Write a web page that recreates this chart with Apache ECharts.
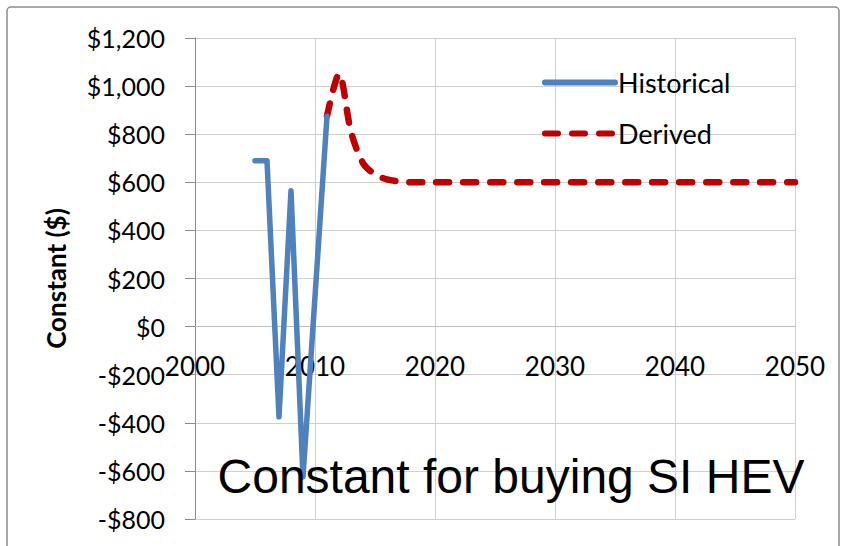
<!DOCTYPE html>
<html>
<head>
<meta charset="utf-8">
<script src="https://cdn.jsdelivr.net/npm/echarts@6/dist/echarts.min.js"></script>
<style>html,body{margin:0;padding:0;background:#fff}#c{width:845px;height:546px}</style>
</head>
<body>
<div id="c"></div>
<script>
const historicalYears = [2005, 2006, 2007, 2008, 2009, 2011];
const historicalValues = [690, 690, -375, 565, -625, 875];
const derivedYears = [2011, 2012, 2013, 2014, 2015, 2016, 2017, 2018, 2019, 2020, 2021, 2022, 2023, 2024, 2025, 2026, 2027, 2028, 2029, 2030, 2031, 2032, 2033, 2034, 2035, 2036, 2037, 2038, 2039, 2040, 2041, 2042, 2043, 2044, 2045, 2046, 2047, 2048, 2049, 2050];
const derivedValues = [875, 1050, 810, 680, 633, 612, 604, 600, 600, 600, 600, 600, 600, 600, 600, 600, 600, 600, 600, 600, 600, 600, 600, 600, 600, 600, 600, 600, 600, 600, 600, 600, 600, 600, 600, 600, 600, 600, 600, 600];
const xTicks = [2000, 2010, 2020, 2030, 2040, 2050];
const yTicks = [-800, -600, -400, -200, 0, 200, 400, 600, 800, 1000, 1200];
const seriesNames = ['Historical', 'Derived'];
const chartTitle = 'Constant for buying SI HEV';
const yAxisName = 'Constant ($)';

function fmtMoney(v) {
  const s = Math.abs(v).toLocaleString('en-US');
  return (v < 0 ? '-$' : '$') + s;
}

const W = 845, H = 546;
const gridTop = 38, gridBottom = 27, gridLeft = 195, gridRight = 50;
const gridH = H - gridTop - gridBottom;
const yMin = yTicks[0], yMax = yTicks[yTicks.length - 1];
// move the x axis up from the grid bottom to the zero line
const xAxisOffset = -gridH * (0 - yMin) / (yMax - yMin);

const chart = echarts.init(document.getElementById('c'), null, {renderer: 'svg'});
const labelFont = 'Lato, "Open Sans", sans-serif';
chart.setOption({
  animation: false,
  backgroundColor: '#fff',
  grid: {left: gridLeft, right: gridRight, top: gridTop, bottom: gridBottom, containLabel: false, outerBoundsMode: 'none'},
  legend: {
    orient: 'vertical',
    left: 542, top: 69, padding: 0,
    itemWidth: 70, itemHeight: 14, itemGap: 24,
    itemStyle: {opacity: 0, color: 'rgba(0,0,0,0)', borderWidth: 0},
    lineStyle: {width: 6, cap: 'round'},
    textStyle: {fontFamily: labelFont, fontSize: 27, color: '#000', padding: [0, 0, 0, -2]},
    data: seriesNames
  },
  xAxis: {
    type: 'value', min: xTicks[0], max: xTicks[xTicks.length - 1], interval: 10,
    offset: xAxisOffset,
    axisLine: {onZero: false, lineStyle: {color: '#bfbfbf', width: 1}},
    axisTick: {show: false},
    axisLabel: {margin: 26, fontFamily: labelFont, fontSize: 26, color: '#000', formatter: v => String(v)},
    splitLine: {show: true, lineStyle: {color: '#d0d0d0', width: 1}}
  },
  yAxis: {
    type: 'value', min: yMin, max: yMax, interval: 200,
    name: yAxisName, nameLocation: 'middle', nameGap: 126, nameRotate: 90,
    nameTextStyle: {fontFamily: labelFont, fontSize: 26, fontWeight: 'bold', color: '#000'},
    axisLine: {show: true, lineStyle: {color: '#8c8c8c', width: 1}},
    axisTick: {show: true, inside: false, length: 10, lineStyle: {color: '#8c8c8c'}},
    axisLabel: {margin: 30, fontFamily: labelFont, fontSize: 25, color: '#000', formatter: fmtMoney},
    splitLine: {show: true, lineStyle: {color: '#d0d0d0', width: 1}}
  },
  series: [
    {
      name: seriesNames[0], type: 'line', showSymbol: false, symbol: 'none',
      data: historicalYears.map((y, i) => [y, historicalValues[i]]),
      lineStyle: {color: '#4F81BD', width: 5.5, cap: 'round', join: 'round'},
      itemStyle: {color: '#4F81BD'}, z: 3
    },
    {
      name: seriesNames[1], type: 'line', showSymbol: false, symbol: 'none', smooth: 0.3,
      data: derivedYears.map((y, i) => [y, derivedValues[i]]),
      lineStyle: {color: '#C00000', width: 6.5, type: [13, 14], cap: 'round', join: 'round'},
      itemStyle: {color: '#C00000'}, z: 2
    }
  ],
  graphic: [
    {type: 'rect', shape: {x: 7, y: 7, width: 832, height: 560, r: 4}, style: {fill: 'none', stroke: '#8c8c8c', lineWidth: 1.5}, silent: true, z: -1},
    {type: 'text', x: 511, y: 476, style: {text: chartTitle, fontFamily: '"Liberation Sans", Arial, sans-serif', fontSize: 48, fill: '#000', align: 'center', verticalAlign: 'middle'}, z: 10}
  ]
});
</script>
</body>
</html>
